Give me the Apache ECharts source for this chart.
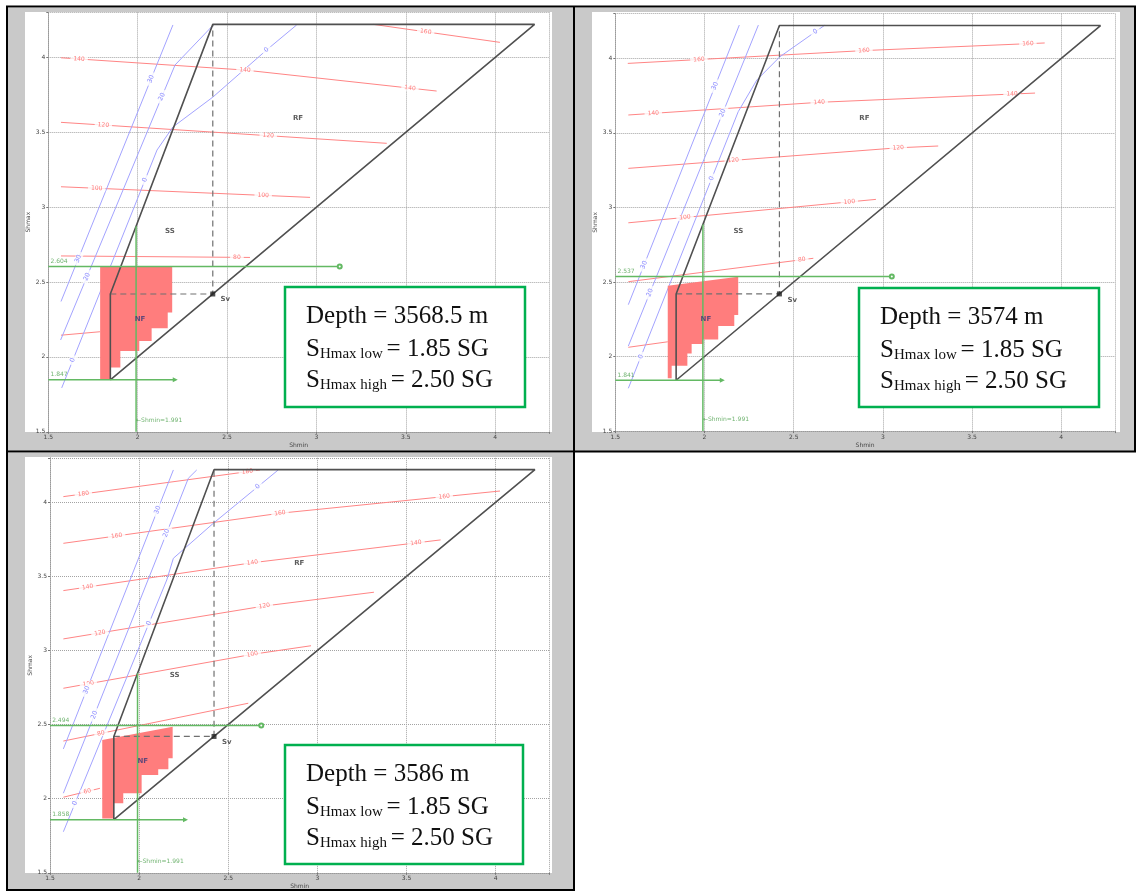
<!DOCTYPE html>
<html>
<head>
<meta charset="utf-8">
<title>Stress polygons</title>
<script src="https://cdn.jsdelivr.net/npm/echarts@6.0.0/dist/echarts.min.js"></script>
<style>
html, body { margin: 0; padding: 0; background: #ffffff; }
#chart { width: 1136px; height: 892px; }
</style>
</head>
<body>
<div id="chart"></div>
<script>
// ---------- summary values for each depth (gradients in SG) ----------
const depthM          = ['3568.5', '3574', '3586'];
const shmaxLowSG      = ['1.85', '1.85', '1.85'];
const shmaxHighSG     = ['2.50', '2.50', '2.50'];
const svSG            = [2.42, 2.42, 2.42];
const cornerLowSG     = [1.847, 1.841, 1.858];
const cornerTopSG     = [4.22, 4.22, 4.22];
const shminSG         = [1.991, 1.991, 1.991];
const upperBoundSG    = [2.604, 2.537, 2.494];
const upperBoundEndSG = [3.13, 3.05, 2.685];
const lowerBoundEndSG = [2.21, 2.10, 2.26];

// ---------- contours at 3568.5 m ----------
const tempLevelsA = [160, 140, 120, 100, 80, 60];
const tempLinesA = [
  [[3.318, 4.22], [4.026, 4.10]],
  [[1.571, 3.997], [2.60, 3.915], [3.672, 3.775]],
  [[1.571, 3.566], [3.393, 3.426]],
  [[1.571, 3.136], [2.964, 3.065]],
  [[1.571, 2.674], [2.628, 2.664]],
  [[1.571, 2.145], [1.789, 2.168]]
];
const tempLabelsA = [[0, 3.611], [1, 1.672], [1, 2.60], [1, 3.523], [2, 1.808], [2, 2.730], [3, 1.771], [3, 2.702], [4, 2.555]];
const widthLevelsA = [30, 20, 0];
const widthLinesA = [
  [[2.197, 4.216], [1.571, 2.37]],
  [[2.423, 4.216], [2.209, 3.949], [1.569, 2.113]],
  [[2.889, 4.216], [2.721, 4.049], [2.421, 3.735], [2.197, 3.535], [2.108, 3.381], [1.575, 1.793]]
];
const widthLabelsA = [[0, 3.855], [0, 2.655], [1, 3.737], [1, 2.535], [2, 4.049], [2, 3.181], [2, 1.978]];
const nfFillA = [[1.79, 2.604], [2.193, 2.604], [2.193, 2.297], [2.168, 2.297], [2.168, 2.192], [2.078, 2.192],
  [2.078, 2.107], [2.009, 2.107], [2.009, 2.04], [1.903, 2.04], [1.903, 1.929], [1.845, 1.929], [1.845, 1.847], [1.79, 1.847]];

// ---------- contours at 3574 m ----------
const tempLevelsB = [160, 140, 120, 100, 80, 60];
const tempLinesB = [
  [[1.570, 3.966], [2.894, 4.052], [3.907, 4.103]],
  [[1.573, 3.620], [2.643, 3.705], [3.853, 3.767]],
  [[1.573, 3.262], [3.086, 3.400], [3.310, 3.412]],
  [[1.573, 2.897], [2.961, 3.054]],
  [[1.573, 2.502], [2.610, 2.659]],
  [[1.573, 2.062], [1.794, 2.099]]
];
const tempLabelsB = [[0, 1.969], [0, 2.894], [0, 3.813], [1, 1.713], [1, 2.643], [1, 3.724], [2, 2.161], [2, 3.086], [3, 1.891], [3, 2.812], [4, 2.545]];
const widthLevelsB = [30, 20, 0];
const widthLinesB = [
  [[2.195, 4.223], [1.573, 2.348]],
  [[2.302, 4.223], [1.573, 2.07]],
  [[2.675, 4.223], [2.423, 4.011], [2.293, 3.854], [2.189, 3.642], [1.573, 1.787]]
];
const widthLabelsB = [[0, 3.814], [0, 2.614], [1, 3.633], [1, 2.428], [2, 4.178], [2, 3.195], [2, 1.999]];
const nfFillB = [[1.794, 2.475], [2.189, 2.535], [2.189, 2.278], [2.167, 2.278], [2.167, 2.205], [2.077, 2.205],
  [2.077, 2.115], [1.993, 2.115], [1.993, 2.084], [1.928, 2.084], [1.928, 2.021], [1.904, 2.021], [1.904, 1.938],
  [1.816, 1.938], [1.816, 1.854], [1.794, 1.854]];

// ---------- contours at 3586 m ----------
const tempLevelsC = [180, 160, 140, 120, 100, 80, 60];
const tempLinesC = [
  [[1.575, 4.038], [2.678, 4.218]],
  [[1.575, 3.723], [2.790, 3.926], [4.024, 4.076]],
  [[1.575, 3.404], [2.635, 3.592], [3.691, 3.746]],
  [[1.575, 3.078], [2.702, 3.300], [3.317, 3.393]],
  [[1.575, 2.745], [2.635, 2.974], [2.964, 3.032]],
  [[1.575, 2.389], [2.612, 2.644]],
  [[1.575, 2.010], [1.780, 2.070]]
];
const tempLabelsC = [[0, 1.687], [0, 2.607], [1, 1.874], [1, 2.79], [1, 3.711], [2, 1.711], [2, 2.635], [2, 3.553],
  [3, 1.78], [3, 2.702], [4, 1.715], [4, 2.635], [5, 1.786], [6, 1.709]];
const widthLevelsC = [30, 20, 0];
const widthLinesC = [
  [[2.192, 4.218], [1.575, 2.336]],
  [[2.323, 4.218], [2.276, 4.162], [1.575, 2.037]],
  [[2.780, 4.218], [2.416, 3.858], [2.192, 3.622], [2.155, 3.476], [1.575, 1.777]]
];
const widthLabelsC = [[0, 3.948], [0, 2.733], [1, 3.791], [1, 2.565], [2, 4.105], [2, 3.184], [2, 1.969]];
const nfFillC = [[1.793, 2.396], [2.188, 2.486], [2.188, 2.273], [2.164, 2.273], [2.164, 2.198], [2.107, 2.198],
  [2.107, 2.16], [2.014, 2.16], [2.014, 2.036], [1.911, 2.036], [1.911, 1.97], [1.855, 1.97], [1.855, 1.866], [1.793, 1.866]];

// ---------- layout ----------
const grids = [
  { left: 48.3, top: 12.4, width: 500.6, height: 419.4 },
  { left: 615.3, top: 13.6, width: 499.5, height: 417.5 },
  { left: 50.0, top: 457.8, width: 499.2, height: 415.0 }
];
const cellRects  = [[8, 8, 566, 443], [575, 8, 559, 443], [8, 453, 566, 437]];
const plotRects  = [[25, 12, 527, 420], [592, 12, 528, 420], [25, 457, 527, 416]];
const noteBoxes  = [[285, 287, 240, 120], [859, 288, 240, 119], [285, 745, 238, 119]];
const tableLines = [[6, 6.5, 1136, 6.5], [7, 6, 7, 891], [574, 6, 574, 891], [1135, 6, 1135, 452],
  [6, 451.5, 1136, 451.5], [6, 890, 575, 890]];
const regionPos = [
  { SS: [2.18, 2.84], RF: [2.897, 3.595], NF: [2.013, 2.254], Sv: [2.49, 2.386] },
  { SS: [2.19, 2.842], RF: [2.896, 3.598], NF: [2.008, 2.252], Sv: [2.492, 2.381] },
  { SS: [2.199, 2.835], RF: [2.898, 3.592], NF: [2.02, 2.25], Sv: [2.491, 2.378] }
];

const AX_MIN = 1.5, AX_MAX = 4.3;
const panels = [
  { tl: tempLevelsA, tp: tempLinesA, tb: tempLabelsA, wl: widthLevelsA, wp: widthLinesA, wb: widthLabelsA, fill: nfFillA },
  { tl: tempLevelsB, tp: tempLinesB, tb: tempLabelsB, wl: widthLevelsB, wp: widthLinesB, wb: widthLabelsB, fill: nfFillB },
  { tl: tempLevelsC, tp: tempLinesC, tb: tempLabelsC, wl: widthLevelsC, wp: widthLinesC, wb: widthLabelsC, fill: nfFillC }
];

// ---------- helpers ----------
function segByX(pts, x) {
  for (let i = 0; i < pts.length - 1; i++) {
    const lo = Math.min(pts[i][0], pts[i + 1][0]), hi = Math.max(pts[i][0], pts[i + 1][0]);
    if (x >= lo - 1e-9 && x <= hi + 1e-9) return i;
  }
  return 0;
}
function segByY(pts, y) {
  for (let i = 0; i < pts.length - 1; i++) {
    const lo = Math.min(pts[i][1], pts[i + 1][1]), hi = Math.max(pts[i][1], pts[i + 1][1]);
    if (y >= lo - 1e-9 && y <= hi + 1e-9) return i;
  }
  return 0;
}
function angleOf(a, b, kx, ky) {
  let dx = (b[0] - a[0]) * kx, dy = (b[1] - a[1]) * ky;
  if (dx < 0) { dx = -dx; dy = -dy; }
  return Math.atan2(dy, dx) * 180 / Math.PI;
}
function lineSeries(p, pts, color, width, type, z) {
  return {
    type: 'line', xAxisIndex: p, yAxisIndex: p, data: pts, symbol: 'none', showSymbol: false,
    lineStyle: { color: color, width: width, type: type }, silent: true, z: z, animation: false,
    emphasis: { disabled: true }
  };
}
function textSeries(p, items, z) {
  return {
    type: 'scatter', xAxisIndex: p, yAxisIndex: p, symbolSize: 0, silent: true, z: z, animation: false,
    emphasis: { disabled: true }, data: items
  };
}
const tickFmt = v => {
  const r = Math.round(v * 2) / 2;
  return (Math.abs(r - v) < 1e-6 && v < 4.01) ? String(r) : '';
};

const xAxes = [], yAxes = [], gridOpts = [], series = [];

panels.forEach((pd, p) => {
  const g = grids[p];
  const kx = g.width / (AX_MAX - AX_MIN), ky = g.height / (AX_MAX - AX_MIN);
  gridOpts.push({ left: g.left, top: g.top, width: g.width, height: g.height, containLabel: false, outerBoundsMode: 'none' });
  const common = {
    type: 'value', gridIndex: p, min: AX_MIN, max: AX_MAX, interval: 0.5,
    nameLocation: 'middle', nameTextStyle: { fontSize: 6, color: '#444', fontFamily: 'DejaVu Sans' },
    axisLine: { show: true, onZero: false, lineStyle: { color: '#9a9a9a', width: 1, type: 'dotted' } },
    axisTick: { show: true, length: 2, lineStyle: { color: '#777' } },
    axisLabel: { fontSize: 6, color: '#444', margin: 3, fontFamily: 'DejaVu Sans', formatter: tickFmt },
    splitLine: { show: true, lineStyle: { color: '#a3a3a3', width: 1, type: 'dotted' } }
  };
  xAxes.push(Object.assign({}, common, { name: 'Shmin', nameGap: 11 }));
  yAxes.push(Object.assign({}, common, { name: 'Shmax', nameGap: 16 }));

  // temperature contours and their labels
  pd.tp.forEach(pts => series.push(lineSeries(p, pts, '#ff8585', 1, 'solid', 2)));
  const tLab = pd.tb.map(([k, x]) => {
    const pts = pd.tp[k], i = segByX(pts, x), a = pts[i], b = pts[i + 1];
    const y = a[1] + (x - a[0]) / (b[0] - a[0]) * (b[1] - a[1]);
    return {
      value: [x, y],
      label: {
        show: true, position: 'inside', formatter: String(pd.tl[k]), rotate: angleOf(a, b, kx, ky),
        color: '#ff5a5a', fontSize: 6, fontFamily: 'DejaVu Sans', backgroundColor: '#ffffff', padding: [0, 3]
      }
    };
  });
  series.push(textSeries(p, tLab, 3));

  // breakout-width contours and their labels
  pd.wp.forEach(pts => series.push(lineSeries(p, pts, '#a3a3ff', 1, 'solid', 2)));
  const wLab = pd.wb.map(([k, y]) => {
    const pts = pd.wp[k], i = segByY(pts, y), a = pts[i], b = pts[i + 1];
    const x = a[0] + (y - a[1]) / (b[1] - a[1]) * (b[0] - a[0]);
    return {
      value: [x, y],
      label: {
        show: true, position: 'inside', formatter: String(pd.wl[k]), rotate: angleOf(a, b, kx, ky),
        color: '#6c6cff', fontSize: 6.5, fontFamily: 'DejaVu Sans', backgroundColor: '#ffffff', padding: [0, 3]
      }
    };
  });
  series.push(textSeries(p, wLab, 3));

  // allowed stress window (normal faulting side)
  const fill = pd.fill;
  series.push({
    type: 'custom', xAxisIndex: p, yAxisIndex: p, data: [[fill[0][0], fill[0][1]]], encode: { x: 0, y: 1 },
    silent: true, animation: false, z: 4, clip: true,
    renderItem: (params, api) => ({
      type: 'polygon',
      shape: { points: fill.map(pt => api.coord(pt)) },
      style: { fill: '#ff7d7d' }
    })
  });

  // frictional stress polygon
  const lo = cornerLowSG[p], sv = svSG[p], top = cornerTopSG[p];
  series.push(lineSeries(p, [[lo, lo], [lo, sv], [sv, top], [top, top], [lo, lo]], '#505050', 1.6, 'solid', 6));
  series.push(lineSeries(p, [[lo, sv], [sv, sv], [sv, top]], '#707070', 1.2, [6, 4], 5));
  series.push({
    type: 'scatter', xAxisIndex: p, yAxisIndex: p, data: [[sv, sv]], symbol: 'rect', symbolSize: 5,
    itemStyle: { color: '#222' }, silent: true, z: 7, animation: false
  });

  // Shmin and Shmax bounds
  const green = '#63b963';
  const shmin = shminSG[p];
  const shmaxAtShmin = sv + (shmin - lo) / (sv - lo) * (top - sv);
  series.push(lineSeries(p, [[shmin, AX_MIN], [shmin, shmaxAtShmin]], green, 1.5, 'solid', 8));
  series.push(Object.assign(lineSeries(p, [
    { value: [AX_MIN, upperBoundSG[p]], symbol: 'none' },
    { value: [upperBoundEndSG[p], upperBoundSG[p]], symbol: 'emptyCircle', symbolSize: 4 }
  ], green, 1.5, 'solid', 8), { showSymbol: true, itemStyle: { color: green, borderColor: green } }));
  series.push(Object.assign(lineSeries(p, [
    { value: [AX_MIN, lo], symbol: 'none' },
    { value: [lowerBoundEndSG[p], lo], symbol: 'triangle', symbolSize: 5, symbolRotate: -90 }
  ], green, 1.5, 'solid', 8), { showSymbol: true, itemStyle: { color: green } }));

  // annotations
  const gLabel = { show: true, color: '#4a9f4a', fontSize: 6, fontFamily: 'DejaVu Sans' };
  const rp = regionPos[p];
  const bold = { show: true, position: 'inside', fontSize: 7, fontWeight: 'bold', fontFamily: 'DejaVu Sans', color: '#333' };
  series.push(textSeries(p, [
    { value: [AX_MIN + 0.012, upperBoundSG[p]], label: Object.assign({}, gLabel, { position: 'top', align: 'left', distance: 2, formatter: upperBoundSG[p].toFixed(3) }) },
    { value: [AX_MIN + 0.012, lo], label: Object.assign({}, gLabel, { position: 'top', align: 'left', distance: 2, formatter: lo.toFixed(3) }) },
    { value: [shmin, 1.578], label: Object.assign({}, gLabel, { position: 'right', distance: 0, formatter: '\u2190Shmin=' + shmin.toFixed(3) }) },
    { value: rp.SS, label: Object.assign({}, bold, { formatter: 'SS' }) },
    { value: rp.RF, label: Object.assign({}, bold, { formatter: 'RF' }) },
    { value: rp.NF, label: Object.assign({}, bold, { formatter: 'NF', color: '#3a3a78' }) },
    { value: rp.Sv, label: Object.assign({}, bold, { formatter: 'Sv' }) }
  ], 9));
});

// ---------- page furniture: cell backgrounds, table rules, note boxes ----------
const graphics = [];
cellRects.forEach(r => graphics.push({ type: 'rect', silent: true, z: -20, shape: { x: r[0], y: r[1], width: r[2], height: r[3] }, style: { fill: '#c9c9c9' } }));
plotRects.forEach(r => graphics.push({ type: 'rect', silent: true, z: -19, shape: { x: r[0], y: r[1], width: r[2], height: r[3] }, style: { fill: '#ffffff' } }));
tableLines.forEach(l => graphics.push({ type: 'line', silent: true, z: 60, shape: { x1: l[0], y1: l[1], x2: l[2], y2: l[3] }, style: { stroke: '#000000', lineWidth: 2 } }));

const serif = 'Liberation Serif';
const rich = {
  b: { fontSize: 25, fontFamily: serif, fill: '#111111', lineHeight: 25, verticalAlign: 'bottom' },
  s: { fontSize: 15, fontFamily: serif, fill: '#111111', lineHeight: 15, verticalAlign: 'bottom' }
};
noteBoxes.forEach((b, i) => {
  graphics.push({ type: 'rect', silent: true, z: 50, shape: { x: b[0], y: b[1], width: b[2], height: b[3] }, style: { fill: '#ffffff', stroke: '#00b04f', lineWidth: 2.5 } });
  const lines = [
    '{b|Depth = ' + depthM[i] + ' m}',
    '{b|S}{s|Hmax low }{b|= ' + shmaxLowSG[i] + ' SG}',
    '{b|S}{s|Hmax high }{b|= ' + shmaxHighSG[i] + ' SG}'
  ];
  const offs = [29, 62, 93];
  lines.forEach((t, j) => graphics.push({
    type: 'text', silent: true, z: 51, x: b[0] + 21, y: b[1] + offs[j],
    style: { text: t, rich: rich, align: 'left', verticalAlign: 'middle', fontFamily: serif, fontSize: 25, fill: '#111111' }
  }));
});

const chart = echarts.init(document.getElementById('chart'), null, { renderer: 'canvas' });
chart.setOption({
  animation: false,
  backgroundColor: '#ffffff',
  grid: gridOpts,
  xAxis: xAxes,
  yAxis: yAxes,
  series: series,
  graphic: { elements: graphics }
});
</script>
</body>
</html>
